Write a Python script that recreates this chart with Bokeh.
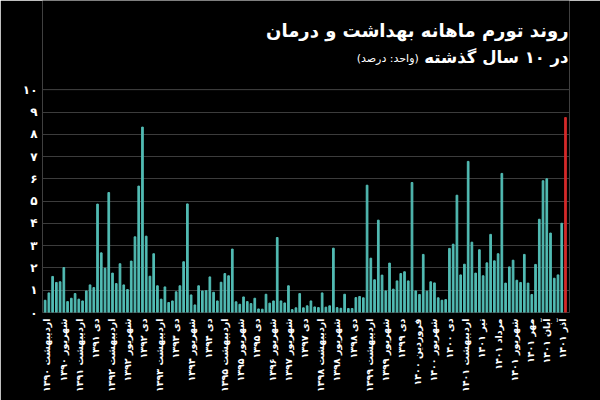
import math
from bokeh.plotting import figure
from bokeh.models import ColumnDataSource, FixedTicker, Label, Range1d, BoxAnnotation
from bokeh.embed import file_html
from bokeh.resources import INLINE

# Monthly inflation values (percent), 140 months
values = [
    0.55, 0.88, 1.62, 1.35, 1.38, 2.02, 0.49, 0.64, 0.85, 0.60,
    0.52, 0.97, 1.24, 1.12, 4.87, 2.68, 1.99, 5.39, 1.77, 1.30,
    2.19, 1.24, 1.03, 2.31, 3.40, 5.68, 8.33, 3.43, 1.63, 2.64,
    1.20, 0.60, 1.15, 0.45, 0.52, 0.93, 1.20, 2.28, 4.88, 0.79,
    0.34, 1.20, 0.97, 0.98, 1.60, 0.91, 0.52, 1.36, 1.75, 1.65,
    2.85, 0.48, 0.37, 0.70, 0.49, 0.40, 0.64, 0.16, 0.15, 0.82,
    0.42, 0.52, 3.37, 0.52, 0.43, 1.20, 0.13, 0.21, 0.85, 0.21,
    0.30, 0.52, 0.25, 0.22, 0.88, 0.24, 0.30, 2.89, 0.22, 0.19,
    0.82, 0.18, 0.18, 0.67, 0.72, 0.66, 5.72, 2.44, 1.47, 4.15,
    1.68, 0.97, 2.22, 1.05, 1.42, 1.75, 1.83, 1.42, 5.84, 0.97,
    0.81, 2.61, 0.96, 1.38, 1.33, 0.66, 0.55, 0.58, 2.88, 3.07,
    5.27, 1.69, 2.17, 6.79, 3.16, 1.77, 2.82, 1.65, 2.23, 3.51,
    2.32, 2.64, 6.25, 1.32, 2.05, 2.35, 1.45, 1.35, 2.61, 1.32,
    0.81, 2.16, 4.19, 5.92, 6.01, 3.57, 1.54, 1.69, 4.01, 8.76,
]

month_labels = [
    "اردیبهشت ۱۳۹۰", "شهریور ۱۳۹۰", "اردیبهشت ۱۳۹۱", "دی ۱۳۹۱",
    "اردیبهشت ۱۳۹۲", "شهریور ۱۳۹۲", "دی ۱۳۹۲", "اردیبهشت ۱۳۹۳",
    "دی ۱۳۹۳", "شهریور ۱۳۹۴", "دی ۱۳۹۴", "اردیبهشت ۱۳۹۵",
    "شهریور ۱۳۹۵", "دی ۱۳۹۵", "شهریور ۱۳۹۶", "شهریور ۱۳۹۷",
    "دی ۱۳۹۷", "اردیبهشت ۱۳۹۸", "شهریور ۱۳۹۸", "دی ۱۳۹۸",
    "اردیبهشت ۱۳۹۹", "شهریور ۱۳۹۹", "دی ۱۳۹۹", "فروردین ۱۴۰۰",
    "شهریور ۱۴۰۰", "دی ۱۴۰۰", "اردیبهشت ۱۴۰۱", "تیر ۱۴۰۱",
    "مرداد ۱۴۰۱", "شهریور ۱۴۰۱", "مهر ۱۴۰۱", "آبان ۱۴۰۱", "آذر ۱۴۰۱",
]

y_ticks = list(range(0, 11))
y_tick_labels = ["۰", "۱", "۲", "۳", "۴", "۵", "۶", "۷", "۸", "۹", "۱۰"]

title_line1 = "روند تورم ماهانه بهداشت و درمان"
title_line2 = "در ۱۰ سال گذشته"
unit_text = "(واحد: درصد)"

TEAL = "#52bcb4"
RED = "#d42a2a"
GRID = "#3c3c3c"
FONT = "DejaVu Sans"

n = len(values)
xs = list(range(n))
colors = [TEAL] * (n - 1) + [RED]
src = ColumnDataSource(dict(x=xs, top=values, color=colors))

X_LO, X_HI = -0.7, n + 0.07
Y_MAX = 10
# extra headroom above the value axis holds the title block
p = figure(width=600, height=400, output_backend="svg", toolbar_location=None,
           title=None,
           x_range=Range1d(X_LO, X_HI), y_range=Range1d(0, 14.02),
           min_border_left=42, min_border_right=31, min_border_top=0,
           min_border_bottom=88)
p.background_fill_color = "black"
p.border_fill_color = "black"
p.outline_line_color = None

# frame box around the value area
p.add_layout(BoxAnnotation(left=X_LO, right=X_HI, bottom=0, top=Y_MAX,
                           fill_alpha=0, line_color=GRID, line_width=1))

p.vbar(x="x", top="top", bottom=0, width=0.45, color="color", source=src)

# y axis
p.yaxis.ticker = FixedTicker(ticks=y_ticks)
p.yaxis.major_label_overrides = {t: l for t, l in zip(y_ticks, y_tick_labels)}
p.yaxis.axis_line_color = None
p.yaxis.major_tick_line_color = None
p.yaxis.minor_tick_line_color = None
p.yaxis.major_tick_out = 0
p.yaxis.major_tick_in = 0
p.yaxis.major_label_standoff = 5
p.yaxis.major_label_text_color = "white"
p.yaxis.major_label_text_font = FONT
p.yaxis.major_label_text_font_style = "bold"
p.yaxis.major_label_text_font_size = "12px"

# x axis
label_pos = [round(0.5 + i * (137.7 / (len(month_labels) - 1)), 2) for i in range(len(month_labels))]
p.xaxis.ticker = FixedTicker(ticks=label_pos)
p.xaxis.major_label_overrides = {t: l for t, l in zip(label_pos, month_labels)}
p.xaxis.major_label_orientation = math.pi / 2
p.xaxis.axis_line_color = None
p.xaxis.major_tick_line_color = None
p.xaxis.minor_tick_line_color = None
p.xaxis.major_tick_out = 0
p.xaxis.major_tick_in = 0
p.xaxis.major_label_standoff = 6
p.xaxis.major_label_text_color = "white"
p.xaxis.major_label_text_font = FONT
p.xaxis.major_label_text_font_style = "bold"
p.xaxis.major_label_text_font_size = "9.5px"

p.xgrid.grid_line_color = None
p.ygrid.grid_line_color = GRID
p.ygrid.grid_line_width = 1

# title block
p.add_layout(Label(x=X_HI, x_offset=-1, y=12.66, text=title_line1,
                   text_align="right", text_baseline="middle", text_color="white",
                   text_font=FONT, text_font_style="bold", text_font_size="18px"))
p.add_layout(Label(x=X_HI, x_offset=-1, y=11.47, text=title_line2,
                   text_align="right", text_baseline="middle", text_color="white",
                   text_font=FONT, text_font_style="bold", text_font_size="16.5px"))
p.add_layout(Label(x=99.8, y=11.42, text=unit_text,
                   text_align="right", text_baseline="middle", text_color="white",
                   text_font=FONT, text_font_size="11px"))

open("out.html", "w").write(file_html(p, INLINE))
